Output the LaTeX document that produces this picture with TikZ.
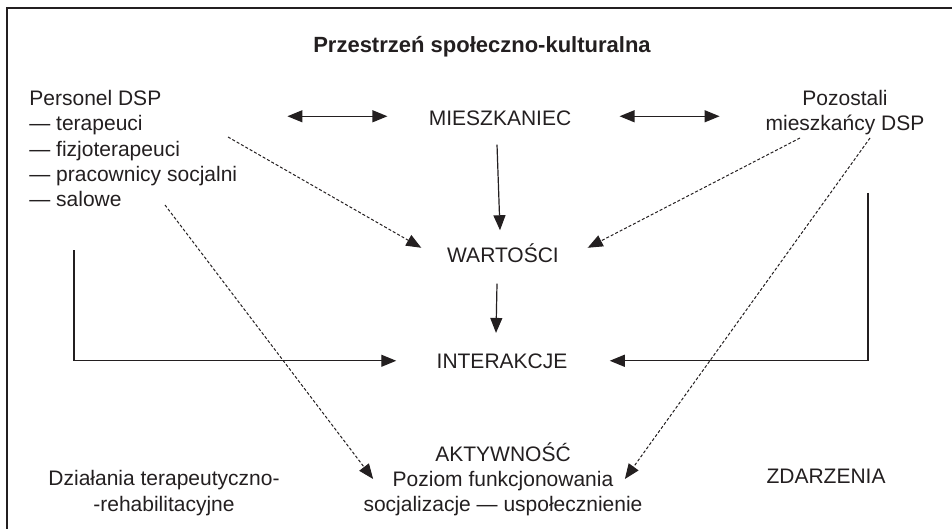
\documentclass[tikz,border=0pt]{standalone}
\usepackage{fontspec}
\setmainfont{Liberation Sans}
\usetikzlibrary{arrows.meta}
\definecolor{ink}{HTML}{231F20}
\begin{document}
\begin{tikzpicture}[x=0.5pt,y=-0.5pt,
    >={Triangle[length=7.5pt,width=6pt]},
    every node/.style={inner sep=0pt,text=ink,font=\fontsize{10.5}{12.6}\selectfont},
    flow/.style={->,draw=ink,line width=0.6pt},
    infl/.style={->,draw=ink,line width=0.5pt,dash pattern=on 1.5pt off 1pt}]
  \useasboundingbox (0,0) rectangle (952,529);
  % frame (cut at right and bottom)
  \draw[ink,line width=1pt] (952,8) -- (7,8) -- (7,529);
  \node[anchor=base,font=\fontsize{11}{13}\selectfont\bfseries] (title) at (482,53) {Przestrzeń społeczno-kulturalna};

  \node[anchor=north west,align=left] (staff) at (29,90)
    {Personel DSP\\— terapeuci\\— fizjoterapeuci\\— pracownicy socjalni\\— salowe};
  \node[anchor=base] (mies) at (500,126) {MIESZKANIEC};
  \node[anchor=north,align=center] (poz) at (845,90) {Pozostali\\mieszkańcy DSP};
  \node[anchor=base] (war) at (503,263) {WARTOŚCI};
  \node[anchor=base] (inter) at (502,368) {INTERAKCJE};
  \node[align=center] (akt) at (503,479)
    {AKTYWNOŚĆ\\Poziom funkcjonowania\\socjalizacje — uspołecznienie};
  \node[align=center] (ther) at (164,493) {Działania terapeutyczno-\\-rehabilitacyjne};
  \node[anchor=base] (events) at (826,483) {ZDARZENIA};

  % free ends
  \coordinate (staffFoot) at (74,250);
  \coordinate (pozFoot) at (868,193);
  \coordinate (staffTail) at (228,137);
  \coordinate (salTail) at (165,205);
  \coordinate (pozTailA) at (800,138);
  \coordinate (pozTailB) at (870,138);

  % solid links
  \draw[flow,<->] ([xshift=-20.5pt,yshift=1.25pt]mies.west) -- ([xshift=-70.5pt,yshift=1.25pt]mies.west);
  \draw[flow,<->] ([xshift=24pt,yshift=1.25pt]mies.east) -- ([xshift=74pt,yshift=1.25pt]mies.east);
  \draw[flow] ([xshift=-1.5pt,yshift=-9pt]mies.south) -- ([xshift=-1.5pt,yshift=6.75pt]war.north);
  \draw[flow] ([xshift=-3pt,yshift=-10pt]war.south) -- ([xshift=-3pt,yshift=10pt]inter.north);
  \draw[flow] (staffFoot) |- ([xshift=-20pt]inter.west);
  \draw[flow] (pozFoot) |- ([xshift=21pt]inter.east);

  % dashed influences
  \draw[infl] (staffTail) -- ([xshift=-12.75pt,yshift=-2pt]war.north west);
  \draw[infl] (salTail) -- ([xshift=5pt]akt.west);
  \draw[infl] (pozTailA) -- ([xshift=14.25pt,yshift=-2pt]war.north east);
  \draw[infl] (pozTailB) -- ([xshift=-9pt]akt.east);
\end{tikzpicture}
\end{document}
